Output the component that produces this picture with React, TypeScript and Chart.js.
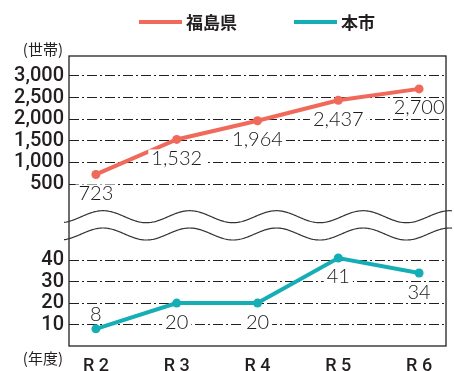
import React, { useEffect, useRef } from 'react';
import { Chart, registerables } from 'chart.js';

Chart.register(...registerables);

const categories = ['R 2', 'R 3', 'R 4', 'R 5', 'R 6'];
const seriesNames = ['福島県', '本市'];
const fukushimaValues = [723, 1532, 1964, 2437, 2700];
const cityValues = [8, 20, 20, 41, 34];
const fukushimaTicks = [500, 1000, 1500, 2000, 2500, 3000];
const cityTicks = [10, 20, 30, 40];
const fukushimaLabelAbove = [false, false, false, false, false];
const cityLabelAbove = [true, false, false, false, false];
const yUnit = '(世帯)';
const xUnit = '(年度)';

const ORANGE = '#F0695A';
const TEAL = '#15AEB4';
const TEXT = '#231F20';
const LABEL_FONT = '300 20px Lato, "Noto Sans", sans-serif';
const JP_FONT_BOLD = 'bold 17px "Noto Sans CJK JP", sans-serif';
const JP_FONT = '15px "Noto Sans CJK JP", sans-serif';
const TICK_FONT = { family: 'Roboto, "Noto Sans", sans-serif', size: 20, weight: '500', lineHeight: 1 };

const fmt = (v: number) => v.toLocaleString('en-US');

const decorPlugin = {
  id: 'decor',
  afterDraw(chart: any) {
    const { ctx, chartArea } = chart;
    const { left, top, right, bottom } = chartArea;
    ctx.save();
    // frame
    ctx.strokeStyle = TEXT;
    ctx.lineWidth = 1.3;
    ctx.strokeRect(left, top, right - left, bottom - top);

    // wavy break lines
    const yTop = chart.scales.yTop;
    const breakY = yTop.bottom;
    const period = 86.7;
    const amp = 6;
    const xPeak = 103;
    const centers = [breakY - 8.5, breakY + 8.8];
    ctx.lineWidth = 1.2;
    ctx.strokeStyle = '#333';
    for (const c of centers) {
      ctx.beginPath();
      for (let x = left - 5; x <= right + 6; x += 1) {
        const y = c - amp * Math.cos((2 * Math.PI * (x - xPeak)) / period);
        if (x === left - 5) ctx.moveTo(x, y);
        else ctx.lineTo(x, y);
      }
      ctx.stroke();
    }

    // unit labels
    ctx.fillStyle = TEXT;
    ctx.font = JP_FONT;
    ctx.textAlign = 'right';
    ctx.textBaseline = 'middle';
    ctx.fillText(yUnit, left - 6, top - 7);
    ctx.fillText(xUnit, left - 6, bottom + 12);

    // legend
    const legendY = 22;
    const items = [
      { name: seriesNames[0], color: ORANGE, x: 139 },
      { name: seriesNames[1], color: TEAL, x: 294 },
    ];
    ctx.font = JP_FONT_BOLD;
    ctx.textAlign = 'left';
    for (const it of items) {
      ctx.strokeStyle = it.color;
      ctx.lineWidth = 4;
      ctx.lineCap = 'butt';
      ctx.beginPath();
      ctx.moveTo(it.x, legendY);
      ctx.lineTo(it.x + 43, legendY);
      ctx.stroke();
      ctx.fillStyle = TEXT;
      ctx.fillText(it.name, it.x + 47, legendY + 1);
    }
    ctx.restore();
  },
  afterDatasetsDraw(chart: any) {
    const { ctx } = chart;
    ctx.save();
    ctx.font = LABEL_FONT;
    ctx.textAlign = 'center';
    ctx.textBaseline = 'middle';
    const placements = [fukushimaLabelAbove, cityLabelAbove];
    chart.data.datasets.forEach((ds: any, di: number) => {
      const meta = chart.getDatasetMeta(di);
      meta.data.forEach((pt: any, i: number) => {
        const text = fmt(ds.data[i].y);
        const above = placements[di][i];
        const cy = above ? pt.y - 15 : pt.y + 18;
        const w = ctx.measureText(text).width;
        ctx.fillStyle = '#fff';
        ctx.fillRect(pt.x - w / 2 - 3, cy - 8, w + 6, 16);
        ctx.fillStyle = '#1a1a1a';
        ctx.fillText(text, pt.x, cy + 1);
      });
    });
    ctx.restore();
  },
};

const gridCommon = {
  color: TEXT,
  lineWidth: 1,
  drawTicks: false,
};

export default function App() {
  const ref = useRef<HTMLCanvasElement>(null);
  useEffect(() => {
    if (!ref.current) return;
    const chart = new Chart(ref.current, {
      type: 'line',
      data: {
        datasets: [
          {
            label: seriesNames[0],
            data: fukushimaValues.map((v, i) => ({ x: i, y: v })),
            yAxisID: 'yTop',
            borderColor: ORANGE,
            backgroundColor: ORANGE,
            borderWidth: 4,
            pointRadius: 4.5,
            pointBorderWidth: 0,
            pointBackgroundColor: ORANGE,
          },
          {
            label: seriesNames[1],
            data: cityValues.map((v, i) => ({ x: i, y: v })),
            yAxisID: 'yBot',
            borderColor: TEAL,
            backgroundColor: TEAL,
            borderWidth: 4,
            pointRadius: 4.5,
            pointBorderWidth: 0,
            pointBackgroundColor: TEAL,
          },
        ],
      },
      options: {
        animation: false,
        responsive: false,
        layout: { padding: { top: 56, right: 8, left: 0, bottom: 0 } },
        plugins: { legend: { display: false }, tooltip: { enabled: false } },
        scales: {
          x: {
            type: 'linear',
            position: 'bottom',
            min: -0.333,
            max: 4.333,
            grid: { display: false },
            border: { display: false },
            afterBuildTicks: (s: any) => {
              s.ticks = categories.map((_, i) => ({ value: i }));
            },
            afterFit: (s: any) => {
              s.height = 25;
            },
            ticks: {
              autoSkip: false,
              maxRotation: 0,
              padding: 3,
              color: TEXT,
              font: { family: 'Roboto, "Noto Sans", sans-serif', size: 18, weight: '500', lineHeight: 1.1 },
              callback: (v: any) => categories[v] ?? '',
            },
          },
          yBot: {
            type: 'linear',
            position: 'left',
            stack: 'y',
            stackWeight: 121,
            min: 0,
            max: 56.3,
            grid: gridCommon,
            border: { display: false, dash: [10, 3, 2, 3] },
            afterBuildTicks: (s: any) => {
              s.ticks = cityTicks.map((v) => ({ value: v }));
            },
            afterFit: (s: any) => {
              s.width = 69;
            },
            ticks: {
              autoSkip: false,
              padding: 5,
              color: TEXT,
              font: TICK_FONT,
              callback: (v: any) => fmt(v),
            },
          },
          yTop: {
            type: 'linear',
            position: 'left',
            stack: 'y',
            stackWeight: 169.5,
            min: -450,
            max: 3460,
            grid: gridCommon,
            border: { display: false, dash: [10, 3, 2, 3] },
            afterBuildTicks: (s: any) => {
              s.ticks = fukushimaTicks.map((v) => ({ value: v }));
            },
            afterFit: (s: any) => {
              s.width = 69;
            },
            ticks: {
              autoSkip: false,
              padding: 5,
              color: TEXT,
              font: TICK_FONT,
              callback: (v: any) => fmt(v),
            },
          },
        },
      } as any,
      plugins: [decorPlugin],
    });
    return () => chart.destroy();
  }, []);

  return (
    <div style={{ position: 'fixed', left: 0, top: 0, width: 454, height: 371, background: '#fff' }}>
      <canvas ref={ref} width={454} height={371} style={{ width: 454, height: 371, display: 'block' }} />
    </div>
  );
}
